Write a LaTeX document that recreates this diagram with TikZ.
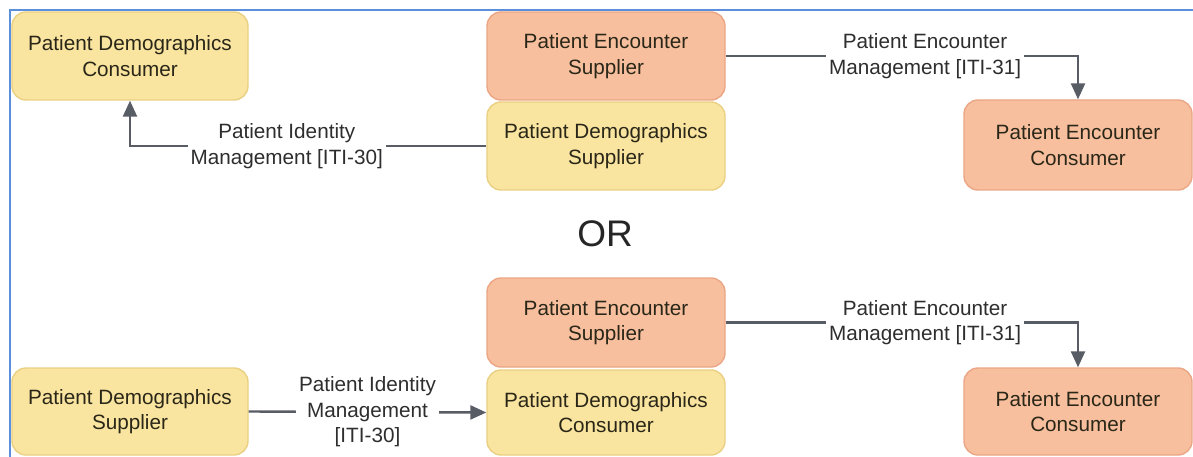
\documentclass[tikz,border=0pt]{standalone}
\usepackage{fontspec}
\setmainfont{Liberation Sans}
\usetikzlibrary{arrows.meta}
\definecolor{yfill}{HTML}{F9E4A0}
\definecolor{ydraw}{HTML}{EBD084}
\definecolor{ofill}{HTML}{F7BF9E}
\definecolor{odraw}{HTML}{EBA785}
\definecolor{framec}{HTML}{5B8FDB}
\definecolor{linec}{HTML}{585C64}
\definecolor{txtc}{HTML}{2A2718}
\definecolor{lblc}{HTML}{2E2E2E}
\tikzset{
  box/.style={rectangle, rounded corners=14pt, draw, line width=1.4pt, align=center,
    inner sep=0pt, text=txtc, font=\fontsize{20.7}{25.5}\selectfont},
  ybox/.style={box, fill=yfill, draw=ydraw},
  obox/.style={box, fill=ofill, draw=odraw},
  arr/.style={draw=linec, line width=2.4pt, -{Triangle[length=16pt,width=14pt]}},
  lbl/.style={fill=white, text=lblc, align=center, inner sep=3pt,
    font=\fontsize{20.7}{25.5}\selectfont},
  frameline/.style={draw=framec, line width=2.2pt}
}
\begin{document}
\begin{tikzpicture}[x=1pt,y=-1pt]
\useasboundingbox (0,0) rectangle (1193,457);
\fill[white] (0,0) rectangle (1193,457);
\draw[frameline] (1193,10) -- (10,10) -- (10,457);

% top group
\node[ybox, minimum width=236pt, minimum height=88pt] (pdc1) at (130,56) {Patient Demographics\\Consumer};
\node[obox, minimum width=238pt, minimum height=88pt] (pes1) at (606,56) {Patient Encounter\\Supplier};
\node[ybox, minimum width=238pt, minimum height=88pt] (pds1) at (606,146) {Patient Demographics\\Supplier};
\node[obox, minimum width=228pt, minimum height=90pt] (pec1) at (1078,145) {Patient Encounter\\Consumer};

\draw[arr] (pds1.west) -| node[lbl, pos=0.28] {Patient Identity\\Management {[ITI-30]}} (pdc1.south);
\draw[arr] (pes1.east) -| node[lbl, pos=0.283] {Patient Encounter\\Management {[ITI-31]}} (pec1.north);

\node[text=black!85, font=\fontsize{37}{40}\selectfont, inner sep=0pt] (or) at (605,234) {OR};

% bottom group
\node[obox, minimum width=238pt, minimum height=89pt] (pes2) at (606,322.5) {Patient Encounter\\Supplier};
\node[ybox, minimum width=238pt, minimum height=85pt] (pdc2) at (606,412.5) {Patient Demographics\\Consumer};
\node[ybox, minimum width=236pt, minimum height=87pt] (pds2) at (130,411.5) {Patient Demographics\\Supplier};
\node[obox, minimum width=228pt, minimum height=87pt] (pec2) at (1078,411.5) {Patient Encounter\\Consumer};

\draw[arr] (pes2.east) -| node[lbl, pos=0.283] {Patient Encounter\\Management {[ITI-31]}} (pec2.north);
\draw[arr] (pds2.east) -- node[lbl, pos=0.5] {Patient Identity\\Management\\{}{[ITI-30]}} (pdc2.west);
\end{tikzpicture}
\end{document}
